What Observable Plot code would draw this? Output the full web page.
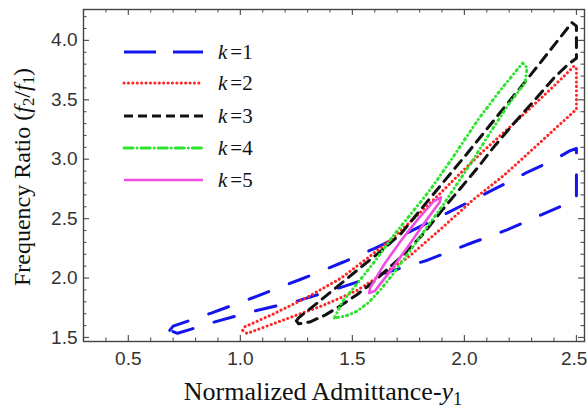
<!DOCTYPE html>
<html>
<head>
<meta charset="utf-8">
<script src="https://cdn.jsdelivr.net/npm/d3@7"></script>
<script src="https://cdn.jsdelivr.net/npm/@observablehq/plot@0.6"></script>
<style>
  html, body { margin: 0; padding: 0; background: #fff; }
  #wrap { position: relative; width: 588px; height: 414px; overflow: hidden; }
  .xt { position: absolute; left: 323px; top: 379px; transform: translateX(-50%);
        font-family: "Liberation Serif", "Times New Roman", serif; font-size: 26px; white-space: nowrap; color: #111; line-height: 26px; }
  .yt { position: absolute; left: 22px; top: 177px; transform: translate(-50%, -50%) rotate(-90deg);
        font-family: "Liberation Serif", "Times New Roman", serif; font-size: 24px; white-space: nowrap; color: #111; line-height: 24px; }
  sub { font-size: 0.7em; vertical-align: -0.25em; line-height: 0; }
  #legend { position: absolute; left: 0; top: 0; pointer-events: none; }
</style>
</head>
<body>
<div id="wrap">
  <div id="chart"></div>
  <div class="xt">Normalized Admittance-<i>y</i><sub>1</sub></div>
  <div class="yt">Frequency Ratio (<i>f</i><sub>2</sub>/<i>f</i><sub>1</sub>)</div>
  <svg id="legend" width="588" height="414"></svg>
</div>
<script>
// ---- data ----
const seriesNames = ["1", "2", "3", "4", "5"];
const xTicks = [0.5, 1.0, 1.5, 2.0, 2.5];
const yTicks = [1.5, 2.0, 2.5, 3.0, 3.5, 4.0];

const k1x = [0.685, 0.70, 0.87, 1.05, 1.27, 1.46, 1.60, 1.75, 1.92, 2.12, 2.27, 2.40, 2.47, 2.50, 2.50, 2.34, 2.19, 2.01, 1.835, 1.64, 1.446, 1.26, 1.058, 0.88, 0.72, 0.685];
const k1y = [1.56, 1.595, 1.705, 1.83, 1.99, 2.135, 2.25, 2.385, 2.545, 2.735, 2.88, 2.995, 3.07, 3.09, 2.66, 2.53, 2.405, 2.28, 2.15, 2.04, 1.92, 1.81, 1.72, 1.628, 1.535, 1.56];

const k2x = [1.01, 1.02, 1.15, 1.30, 1.45, 1.59, 1.70, 1.88, 1.97, 2.085, 2.22, 2.34, 2.44, 2.49, 2.50, 2.50, 2.43, 2.32, 2.18, 2.04, 1.893, 1.746, 1.64, 1.52, 1.37, 1.223, 1.03, 1.01];
const k2y = [1.56, 1.59, 1.70, 1.84, 2.00, 2.20, 2.37, 2.69, 2.86, 3.07, 3.30, 3.51, 3.69, 3.785, 3.76, 3.42, 3.30, 3.11, 2.87, 2.66, 2.41, 2.17, 2.04, 1.895, 1.77, 1.668, 1.534, 1.56];

const k3x = [1.25, 1.26, 1.35, 1.46, 1.55, 1.63, 1.72, 1.85, 2.00, 2.15, 2.30, 2.48, 2.50, 2.50, 2.464, 2.40, 2.31, 2.22, 2.13, 2.06, 1.98, 1.90, 1.82, 1.73, 1.66, 1.59, 1.52, 1.45, 1.38, 1.31, 1.26, 1.25];
const k3y = [1.64, 1.665, 1.80, 1.97, 2.11, 2.23, 2.38, 2.68, 3.02, 3.37, 3.72, 4.15, 4.12, 3.85, 3.80, 3.685, 3.49, 3.30, 3.10, 2.93, 2.75, 2.57, 2.38, 2.20, 2.08, 1.96, 1.86, 1.77, 1.69, 1.63, 1.615, 1.64];

const k4x = [1.42, 1.455, 1.52, 1.60, 1.68, 1.77, 1.85, 1.95, 2.06, 2.16, 2.26, 2.28, 2.27, 2.20, 2.10, 2.03, 1.97, 1.91, 1.83, 1.75, 1.68, 1.625, 1.57, 1.52, 1.47, 1.42];
const k4y = [1.665, 1.80, 1.95, 2.14, 2.35, 2.56, 2.75, 3.02, 3.33, 3.58, 3.81, 3.77, 3.64, 3.47, 3.18, 2.97, 2.80, 2.63, 2.42, 2.21, 2.03, 1.90, 1.79, 1.72, 1.68, 1.665];

const k5x = [1.575, 1.58, 1.64, 1.715, 1.79, 1.86, 1.895, 1.89, 1.82, 1.75, 1.67, 1.60, 1.575];
const k5y = [1.875, 1.92, 2.11, 2.31, 2.49, 2.64, 2.68, 2.64, 2.46, 2.27, 2.06, 1.89, 1.875];

// ---- styles ----
const styles = [
  {stroke: "#1414ee", strokeWidth: 3,   dash: "21,22",        legendDash: "32,17"},
  {stroke: "#ff2626", strokeWidth: 3,   dash: "0.1,4.3",      legendDash: "0.1,4.3"},
  {stroke: "#111111", strokeWidth: 3,   dash: "10,7",         legendDash: "9,5"},
  {stroke: "#2ee42e", strokeWidth: 3,   dash: "1.5,4,0.1,4",  legendDash: "9,4,0.1,4"},
  {stroke: "#f04ee0", strokeWidth: 2.6, dash: null,           legendDash: null}
];

const xs = [k1x, k2x, k3x, k4x, k5x];
const ys = [k1y, k2y, k3y, k4y, k5y];
const loops = xs.map((xa, i) => xa.map((x, j) => ({x, y: ys[i][j]})));

const W = 588, H = 414;
const mL = 83, mR = 4, mT = 9, mB = 73;
const frameW = W - mL - mR, frameH = H - mT - mB;
const major = 6, minor = 3.5;

const xMinor = d3.range(3, 26).map(i => i / 10).filter(v => !xTicks.some(t => Math.abs(t - v) < 1e-9));
const yMinor = d3.range(15, 43).map(i => i / 10).filter(v => !yTicks.some(t => Math.abs(t - v) < 1e-9));

const tickStroke = "#555";
const lastX = xTicks[xTicks.length - 1];

const marks = [
  // tick marks, inward on all four sides
  Plot.tickX(xTicks, {x: d => d, insetTop: frameH - major, stroke: tickStroke, strokeWidth: 1.2}),
  Plot.tickX(xTicks, {x: d => d, insetBottom: frameH - major, stroke: tickStroke, strokeWidth: 1.2}),
  Plot.tickX(xMinor, {x: d => d, insetTop: frameH - minor, stroke: tickStroke, strokeWidth: 1.1}),
  Plot.tickX(xMinor, {x: d => d, insetBottom: frameH - minor, stroke: tickStroke, strokeWidth: 1.1}),
  Plot.tickY(yTicks, {y: d => d, insetRight: frameW - major, stroke: tickStroke, strokeWidth: 1.2}),
  Plot.tickY(yTicks, {y: d => d, insetLeft: frameW - major, stroke: tickStroke, strokeWidth: 1.2}),
  Plot.tickY(yMinor, {y: d => d, insetRight: frameW - minor, stroke: tickStroke, strokeWidth: 1.1}),
  Plot.tickY(yMinor, {y: d => d, insetLeft: frameW - minor, stroke: tickStroke, strokeWidth: 1.1}),
  Plot.axisX({ticks: xTicks.slice(0, -1), tickSize: 0, tickPadding: 10, tickFormat: ".1f", label: null, fill: "#333"}),
  Plot.axisX({ticks: [lastX], tickSize: 0, tickPadding: 10, tickFormat: ".1f", label: null, fill: "#333", textAnchor: "end", dx: 11}),
  Plot.axisY({ticks: yTicks, tickSize: 0, tickPadding: 6, tickFormat: ".1f", label: null, fill: "#333"}),
  ...loops.map((data, i) => Plot.line(data, {
    x: "x", y: "y",
    stroke: styles[i].stroke,
    strokeWidth: styles[i].strokeWidth,
    strokeDasharray: styles[i].dash,
    strokeLinecap: "round",
    strokeLinejoin: "round"
  })),
  Plot.frame({stroke: "#444", strokeWidth: 1.4})
];

const chart = Plot.plot({
  width: W, height: H,
  marginLeft: mL, marginRight: mR, marginTop: mT, marginBottom: mB,
  x: {domain: [0.3, 2.536]},
  y: {domain: [1.466, 4.26]},
  style: {fontFamily: "'Liberation Sans', Arial, sans-serif", fontSize: "19px", background: "#fff", overflow: "visible"},
  marks
});
document.getElementById("chart").appendChild(chart);

// ---- legend (HTML/SVG overlay in the upper left of the frame) ----
const legend = d3.select("#legend");
const legY = [52, 83, 116, 148, 180];
seriesNames.forEach((name, i) => {
  const s = styles[i];
  legend.append("line")
    .attr("x1", 124).attr("x2", 203).attr("y1", legY[i]).attr("y2", legY[i])
    .attr("stroke", s.stroke).attr("stroke-width", s.strokeWidth)
    .attr("stroke-dasharray", s.legendDash)
    .attr("stroke-linecap", s.legendDash && s.legendDash.includes("0.1") ? "round" : "butt");
  const t = legend.append("text")
    .attr("x", 218).attr("y", legY[i] + 7)
    .attr("font-family", "'Liberation Serif', 'Times New Roman', serif")
    .attr("font-size", 21).attr("fill", "#111");
  t.append("tspan").attr("font-style", "italic").text("k");
  t.append("tspan").attr("dx", 3).text("=" + name);
});
</script>
</body>
</html>
